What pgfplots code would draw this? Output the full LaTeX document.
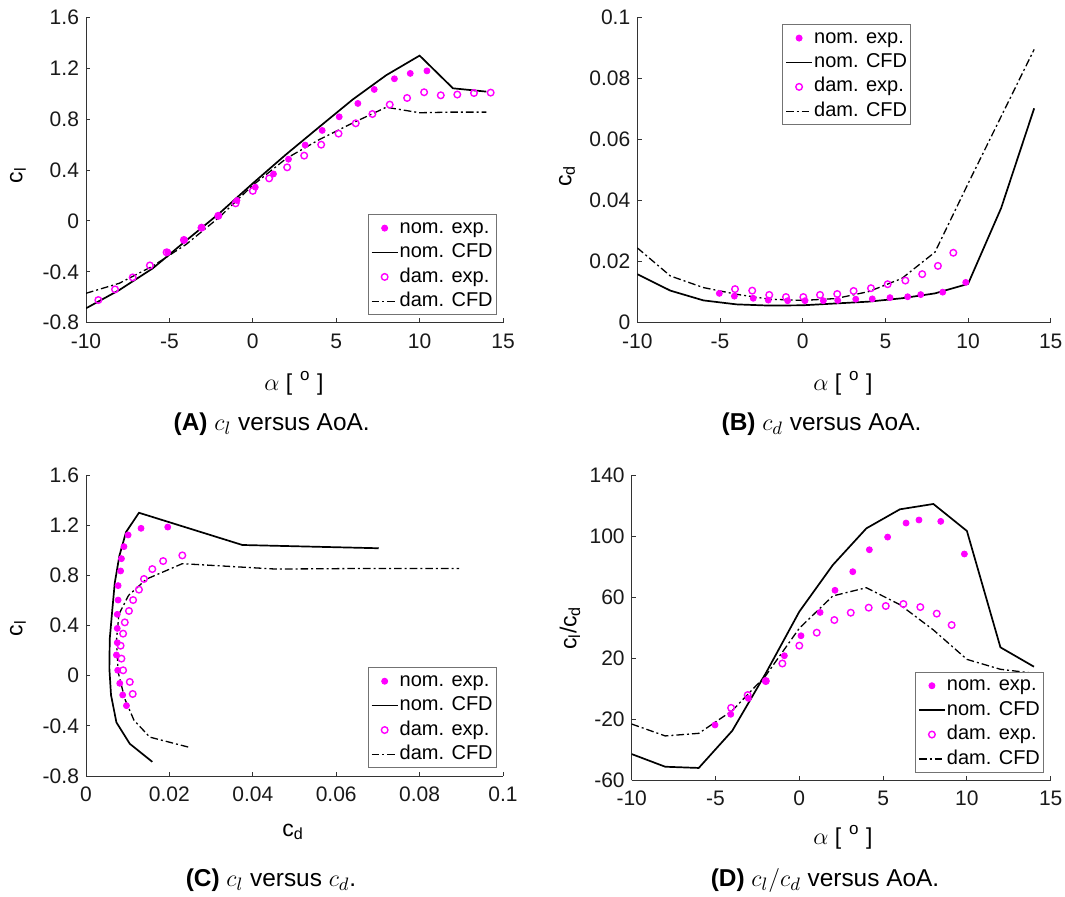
\documentclass[border=0pt]{standalone}
\usepackage{fontspec}
\setmainfont{Liberation Sans}
\usepackage{pgfplots}
\pgfplotsset{compat=1.18}
\usepackage{pgfplotstable}

\definecolor{axgray}{gray}{0.2}
\definecolor{mag}{RGB}{255,0,255}

% CFD polars (nominal and damaged blade section)
\pgfplotstableread{
aoa  clnom   cdnom   cldam   cddam
-10  -0.687  0.0159  -0.569  0.0245
-8   -0.543  0.0105  -0.490  0.0153
-6   -0.373  0.0073  -0.355  0.0115
-4   -0.155  0.0060  -0.185  0.0093
-2    0.060  0.0056   0.030  0.0077
0     0.295  0.0057   0.280  0.0073
2     0.523  0.0063   0.490  0.0079
4     0.740  0.0069   0.640  0.0102
6     0.955  0.0080   0.770  0.0145
8     1.145  0.0096   0.893  0.0231
10    1.299  0.0127   0.850  0.0455
12    1.042  0.0375   0.855  0.0675
14    1.016  0.0702   0.855  0.0895
}\cfd

% lift-to-drag ratio, CFD
\pgfplotstableread{
aoa  nom    dam
-10  -43.0  -23.3
-8   -51.3  -31.1
-6   -52.1  -29.4
-4   -27.7  -14.5
-2    10.0    8.5
0     50.4   39.5
2     81.0   60.7
4    105.0   66.1
6    117.5   55.0
8    121.0   38.4
10   103.3   19.1
12    27.0   12.6
14    14.3   10.0
}\ldcfd

\pgfplotsset{
  matlab/.style={
    scale only axis, anchor=south west,
    axis lines=left, axis line style={-, axgray, line width=0.45pt},
    tick align=inside, major tick length=2.2pt,
    tick style={axgray, line width=0.45pt},
    every tick label/.append style={font=\fontsize{10.5}{12}\selectfont, text=black!90},
    xticklabel style={yshift=-2pt},
    legend cell align=left,
    legend style={font=\fontsize{10}{12}\selectfont, draw=black!55, line width=0.45pt,
      fill=white, inner xsep=1.2pt, inner ysep=1.5pt, row sep=1.9pt,
      nodes={inner xsep=0.6pt, inner ysep=0.5pt, text height=7.2pt, text depth=2.1pt}},
  },
  nomexp/.style={only marks, mark=*, mark size=1.5pt, color=mag,
    mark options={fill=mag, draw=mag},
    legend image code/.code={\path (0pt,0pt) (13pt,0pt); \draw[##1, only marks] plot coordinates {(6.5pt,0pt)};}},
  damexp/.style={only marks, mark=o, mark size=1.65pt, color=mag,
    mark options={draw=mag, line width=0.7pt},
    legend image code/.code={\path (0pt,0pt) (13pt,0pt); \draw[##1, only marks] plot coordinates {(6.5pt,0pt)};}},
  nomcfd/.style={black, line width=0.85pt, no marks,
    legend image code/.code={\draw[##1] (0pt,0pt) -- (13pt,0pt);}},
  damcfd/.style={black, line width=0.65pt, no marks,
    dash pattern=on 3.8pt off 1.5pt on 1pt off 1.5pt,
    legend image code/.code={\draw[##1] (0pt,0pt) -- (13pt,0pt);}},
}

\newcommand{\labfont}{\fontsize{11.5}{13}\selectfont}
\newcommand{\capfont}{\fontsize{12.2}{14}\selectfont}
\newcommand{\degunit}{[\,\,\raisebox{0.42em}{\fontsize{8.5}{10}\selectfont o}\,\,]}

\begin{document}
\begin{tikzpicture}
\useasboundingbox (0pt,0pt) rectangle (532.5pt,448pt);

% (A) lift coefficient versus angle of attack
\begin{axis}[matlab, at={(43pt,286.65pt)}, width=208.5pt, height=152.7pt,
  xmin=-10, xmax=15, ymin=-0.8, ymax=1.6,
  xtick={-10,-5,0,5,10,15}, xticklabels={-10,-5,0,5,10,15},
  ytick={-0.8,-0.4,0,0.4,0.8,1.2,1.6}, yticklabels={-0.8,-0.4,0,0.4,0.8,1.2,1.6},
  legend style={at={(0.985,0.025)}, anchor=south east}]
\addplot[nomexp] coordinates {
(-5.1,-0.245) (-4.1,-0.150) (-3.1,-0.055) (-2.05,0.040) (-0.95,0.160) (0.15,0.265)
(1.24,0.369) (2.14,0.485) (3.14,0.596) (4.16,0.711) (5.18,0.818) (6.30,0.923)
(7.28,1.033) (8.49,1.117) (9.44,1.159) (10.44,1.179)};
\addlegendentry{nom. exp.}
\addplot[nomcfd] table[x=aoa, y=clnom] {\cfd};
\addlegendentry{nom. CFD}
\addplot[damexp] coordinates {
(-9.26,-0.622) (-8.26,-0.538) (-7.20,-0.444) (-6.17,-0.350) (-5.17,-0.247) (-4.13,-0.150)
(-3.07,-0.053) (-2.07,0.040) (-1.03,0.138) (0.00,0.236) (0.98,0.334) (2.06,0.421)
(3.08,0.513) (4.10,0.599) (5.14,0.686) (6.17,0.767) (7.17,0.840) (8.21,0.914)
(9.25,0.966) (10.27,1.011) (11.27,0.987) (12.26,0.993) (13.26,1.005) (14.26,1.008)};
\addlegendentry{dam. exp.}
\addplot[damcfd] table[x=aoa, y=cldam] {\cfd};
\addlegendentry{dam. CFD}
\end{axis}

% (B) drag coefficient versus angle of attack
\begin{axis}[matlab, at={(318.65pt,286.65pt)}, width=206.7pt, height=152.7pt,
  xmin=-10, xmax=15, ymin=0, ymax=0.1,
  xtick={-10,-5,0,5,10,15}, xticklabels={-10,-5,0,5,10,15},
  ytick={0,0.02,0.04,0.06,0.08,0.1}, yticklabels={0,0.02,0.04,0.06,0.08,0.1},
  legend style={at={(0.351,0.977)}, anchor=north west}]
\addplot[nomexp] coordinates {
(-5.04,0.0096) (-4.13,0.0087) (-2.99,0.0080) (-2.08,0.0074) (-0.91,0.0072) (0.14,0.0072)
(1.25,0.0072) (2.12,0.0073) (3.21,0.0077) (4.21,0.0078) (5.28,0.0082) (6.35,0.0085)
(7.14,0.0092) (8.47,0.0100) (9.86,0.0132)};
\addlegendentry{nom. exp.}
\addplot[nomcfd] table[x=aoa, y=cdnom] {\cfd};
\addlegendentry{nom. CFD}
\addplot[damexp] coordinates {
(-4.09,0.0110) (-3.05,0.0105) (-2.02,0.0091) (-1.01,0.0084) (0.04,0.0084) (1.05,0.0091)
(2.09,0.0094) (3.08,0.0104) (4.13,0.0113) (5.14,0.0126) (6.21,0.0138) (7.23,0.0159)
(8.18,0.0186) (9.11,0.0229)};
\addlegendentry{dam. exp.}
\addplot[damcfd] table[x=aoa, y=cddam] {\cfd};
\addlegendentry{dam. CFD}
\end{axis}

% (C) drag polar
\begin{axis}[matlab, at={(43pt,60pt)}, width=208.5pt, height=150.5pt,
  xmin=0, xmax=0.1, ymin=-0.8, ymax=1.6,
  xtick={0,0.02,0.04,0.06,0.08,0.1}, xticklabels={0,0.02,0.04,0.06,0.08,0.1},
  ytick={-0.8,-0.4,0,0.4,0.8,1.2,1.6}, yticklabels={-0.8,-0.4,0,0.4,0.8,1.2,1.6},
  legend style={at={(0.985,0.026)}, anchor=south east}]
\addplot[nomexp] coordinates {
(0.0097,-0.239) (0.0088,-0.154) (0.0081,-0.061) (0.0076,0.043) (0.0073,0.165) (0.0075,0.263)
(0.0075,0.377) (0.0075,0.489) (0.0077,0.603) (0.0077,0.718) (0.0083,0.835) (0.0085,0.933)
(0.0091,1.029) (0.0101,1.122) (0.0132,1.175) (0.0196,1.185)};
\addlegendentry{nom. exp.}
\addplot[nomcfd] table[x=cdnom, y=clnom] {\cfd};
\addlegendentry{nom. CFD}
\addplot[damexp] coordinates {
(0.0112,-0.146) (0.0105,-0.050) (0.0089,0.043) (0.0085,0.136) (0.0083,0.239) (0.0089,0.335)
(0.0093,0.425) (0.0103,0.516) (0.0113,0.603) (0.0127,0.686) (0.0139,0.771) (0.0159,0.850)
(0.0185,0.914) (0.0231,0.959)};
\addlegendentry{dam. exp.}
\addplot[damcfd] table[x=cddam, y=cldam] {\cfd};
\addlegendentry{dam. CFD}
\end{axis}

% (D) lift-to-drag ratio versus angle of attack
\begin{axis}[matlab, at={(315.85pt,58pt)}, width=209.5pt, height=152.5pt,
  xmin=-10, xmax=15, ymin=-60, ymax=140,
  xtick={-10,-5,0,5,10,15}, xticklabels={-10,-5,0,5,10,15},
  ytick={-60,-20,20,60,100,140}, yticklabels={-60,-20,20,60,100,140},
  legend style={at={(0.984,0.024)}, anchor=south east}]
\addplot[nomexp] coordinates {
(-5.03,-23.9) (-4.09,-16.9) (-3.04,-6.5) (-2.0,4.9) (-0.89,21.5) (0.10,34.6)
(1.24,49.9) (2.13,64.4) (3.19,76.6) (4.18,91.0) (5.27,99.3) (6.37,108.5)
(7.14,110.5) (8.44,109.6) (9.85,88.2)};
\addlegendentry{nom. exp.}
\addplot[nomcfd] table[x=aoa, y=nom] {\ldcfd};
\addlegendentry{nom. CFD}
\addplot[damexp] coordinates {
(-4.07,-12.7) (-3.08,-4.3) (-2.0,4.9) (-1.01,16.4) (0.0,28.1) (1.04,36.6)
(2.09,44.9) (3.07,49.7) (4.14,53.0) (5.16,54.1) (6.21,55.4) (7.22,53.4)
(8.2,49.1) (9.09,41.6)};
\addlegendentry{dam. exp.}
\addplot[damcfd] table[x=aoa, y=dam] {\ldcfd};
\addlegendentry{dam. CFD}
\end{axis}

% axis labels
\node[font=\labfont] at (147pt,256.5pt) {$\alpha$ \degunit};
\node[font=\labfont] at (421.5pt,256.5pt) {$\alpha$ \degunit};
\node[font=\labfont] at (146.5pt,32pt) {c\textsubscript{d}};
\node[font=\labfont] at (421.5pt,29.5pt) {$\alpha$ \degunit};
\node[font=\labfont, rotate=90] at (9pt,360.5pt) {c\textsubscript{l}};
\node[font=\labfont, rotate=90] at (283.5pt,360pt) {c\textsubscript{d}};
\node[font=\labfont, rotate=90] at (9pt,134pt) {c\textsubscript{l}};
\node[font=\labfont, rotate=90] at (285pt,134pt) {c\textsubscript{l}/c\textsubscript{d}};

% sub-captions
\node[font=\capfont] at (135.85pt,236pt) {\textbf{(A)} $c_l$ versus AoA.};
\node[font=\capfont] at (410.75pt,236pt) {\textbf{(B)} $c_d$ versus AoA.};
\node[font=\capfont] at (135.5pt,8pt) {\textbf{(C)} $c_l$ versus $c_d$.};
\node[font=\capfont] at (412.5pt,8pt) {\textbf{(D)} $c_l/c_d$ versus AoA.};
\end{tikzpicture}
\end{document}
